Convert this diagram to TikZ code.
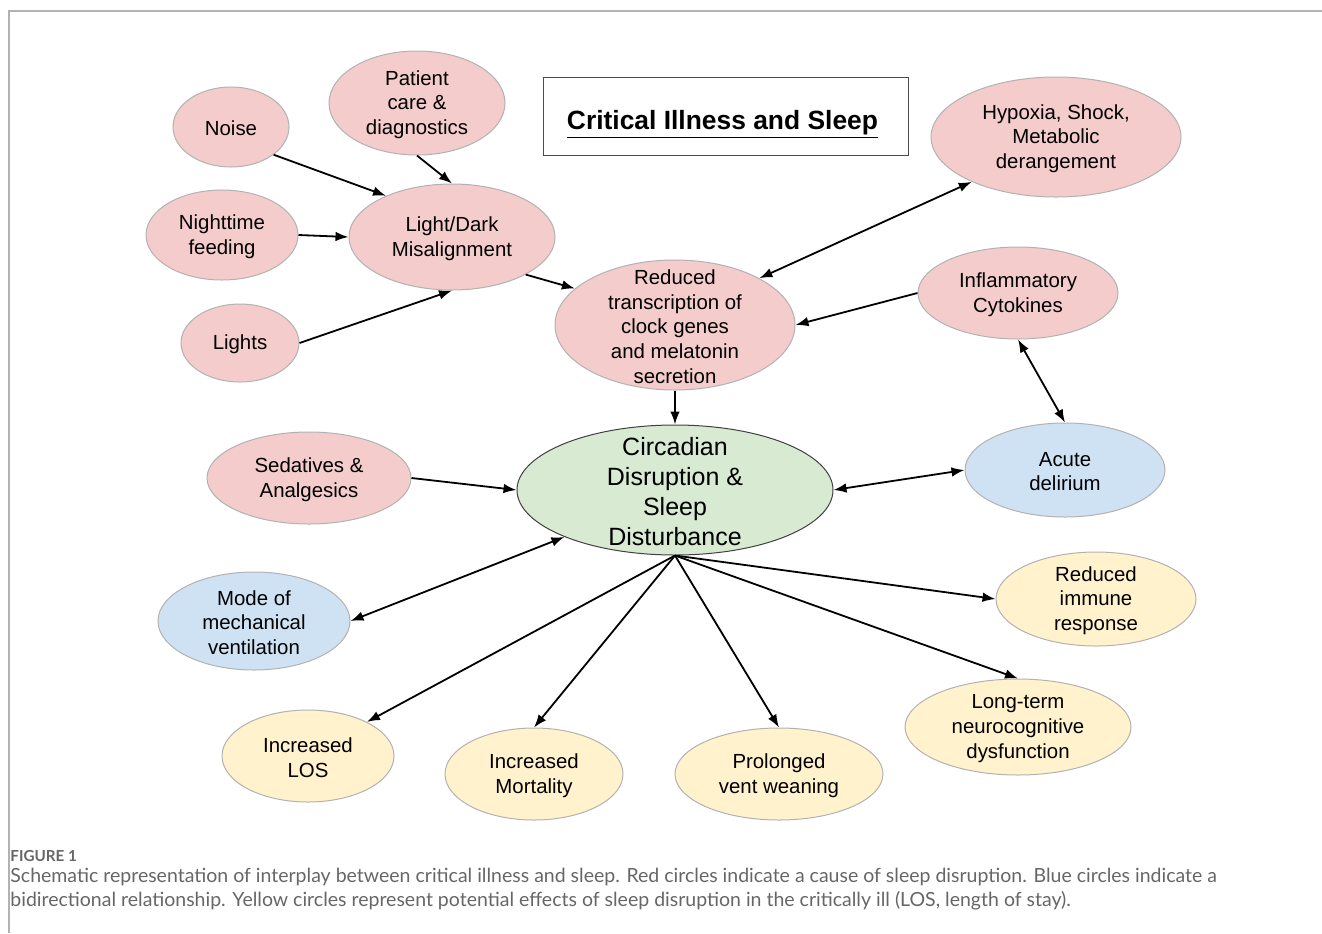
\documentclass[tikz,border=0pt]{standalone}
\usepackage{fontspec}
\setmainfont{Liberation Sans}
\newfontfamily\capfont{Lato}
\usetikzlibrary{shapes.geometric,arrows.meta}

\definecolor{causered}{HTML}{F4CCCC}
\definecolor{bothblue}{HTML}{CFE2F3}
\definecolor{effectyellow}{HTML}{FFF2CC}
\definecolor{centergreen}{HTML}{D9EAD3}

\tikzset{
  bubble/.style={ellipse, draw=black!30, line width=0.5pt, inner sep=0pt},
  cause/.style={bubble, fill=causered},
  both/.style={bubble, fill=bothblue},
  effect/.style={bubble, fill=effectyellow},
  rad/.style 2 args={minimum width=#1pt, minimum height=#2pt},
  txt/.style={align=center, inner sep=0pt, yshift=-0.8pt, font=\fontsize{10.2}{12.4}\selectfont},
  link/.style={-{Latex[length=6.5pt,width=4.8pt]}, line width=0.9pt},
  twoway/.style={{Latex[length=6.5pt,width=4.8pt]}-{Latex[length=6.5pt,width=4.8pt]}, line width=0.9pt},
}

\begin{document}
\begin{tikzpicture}[x=0.5pt,y=-0.5pt]
  \useasboundingbox (0,0) rectangle (1322,933);
  \draw[black!30, line width=0.9pt] (1322,11) -- (9,11) -- (9,933);

  % causes
  \node[cause, rad={58}{40}, label={[txt]center:Noise}] (noise) at (231,127) {};
  \node[cause, rad={88}{52}, label={[txt]center:{Patient\\care \&\\diagnostics}}] (patient) at (417,103) {};
  \node[cause, rad={76}{45}, label={[txt]center:{Nighttime\\feeding}}] (night) at (222,235) {};
  \node[cause, rad={103}{53}, label={[txt]center:{Light/Dark\\Misalignment}}] (ld) at (452,237) {};
  \node[cause, rad={59}{39}, label={[txt]center:Lights}] (lights) at (240,343) {};
  \node[cause, rad={120}{65}, label={[txt]center:{Reduced\\transcription of\\clock genes\\and melatonin\\secretion}}] (reduced) at (675,325) {};
  \node[cause, rad={125}{60}, label={[txt]center:{Hypoxia, Shock,\\Metabolic\\derangement}}] (hypoxia) at (1056,137) {};
  \node[cause, rad={100}{46}, label={[txt]center:{Inflammatory\\Cytokines}}] (inflam) at (1018,293) {};
  \node[cause, rad={102}{46}, label={[txt]center:{Sedatives \&\\Analgesics}}] (sedat) at (309,478) {};

  % centre
  \node[bubble, draw=black!75, fill=centergreen, rad={158}{65},
        label={[txt, font=\fontsize{12.5}{15}\selectfont]center:{Circadian\\Disruption \&\\Sleep\\Disturbance}}] (circ) at (675,490) {};

  % bidirectional
  \node[both, rad={100}{47}, label={[txt]center:{Acute\\delirium}}] (acute) at (1065,470) {};
  \node[both, rad={96}{49}, label={[txt]center:{Mode of\\mechanical\\ventilation}}] (mode) at (254,621) {};

  % effects
  \node[effect, rad={100}{47}, label={[txt]center:{Reduced\\immune\\response}}] (immune) at (1096,599) {};
  \node[effect, rad={113}{48}, label={[txt]center:{Long-term\\neurocognitive\\dysfunction}}] (longterm) at (1018,727) {};
  \node[effect, rad={86}{46}, label={[txt]center:{Increased\\LOS}}] (los) at (308,756) {};
  \node[effect, rad={89}{46}, label={[txt]center:{Increased\\Mortality}}] (mort) at (534,774) {};
  \node[effect, rad={104}{46}, label={[txt]center:{Prolonged\\vent weaning}}] (prolong) at (779,774) {};

  \node[draw=black!70, line width=0.5pt, minimum width=182.5pt, minimum height=39pt,
        label={[font=\bfseries\fontsize{13.2}{16}\selectfont, yshift=-4.3pt, xshift=-1.5pt]center:\underline{Critical Illness and Sleep}}] (title) at (725.5,116) {};

  \draw[link] (noise.-33) -- (ld.148);
  \draw[link] (patient.south) -- (ld.north);
  \draw[link] (night.east) -- (ld.west);
  \draw[link] (lights.east) -- (ld.south);
  \draw[link] (ld.-27) -- (reduced.160);
  \draw[twoway] (hypoxia.-152) -- (reduced.29);
  \draw[link] (inflam.west) -- (reduced.east);
  \draw[link] (reduced.south) -- (circ.north);
  \draw[link] (sedat.east) -- (circ.west);
  \draw[twoway] (circ.east) -- (acute.west);
  \draw[twoway] (inflam.south) -- (acute.north);
  \draw[twoway] (circ.-157) -- (mode.east);
  \draw[link] (circ.south) -- (los.30);
  \draw[link] (circ.south) -- (mort.north);
  \draw[link] (circ.south) -- (prolong.north);
  \draw[link] (circ.south) -- (longterm.north);
  \draw[link] (circ.south) -- (immune.west);

  % caption
  \node[anchor=base west, inner sep=0pt, text=black!60, font=\capfont\bfseries\fontsize{7.6}{9}\selectfont] (figlabel) at (10,861) {FIGURE 1};
  \node[anchor=base west, inner sep=0pt, align=left, text=black!60, font=\capfont\fontsize{9.75}{12}\selectfont] (caption) at (10,906)
    {Schematic representation of interplay between critical illness and sleep. Red circles indicate a cause of sleep disruption. Blue circles indicate a\\
     bidirectional relationship. Yellow circles represent potential effects of sleep disruption in the critically ill (LOS, length of stay).};
\end{tikzpicture}
\end{document}
